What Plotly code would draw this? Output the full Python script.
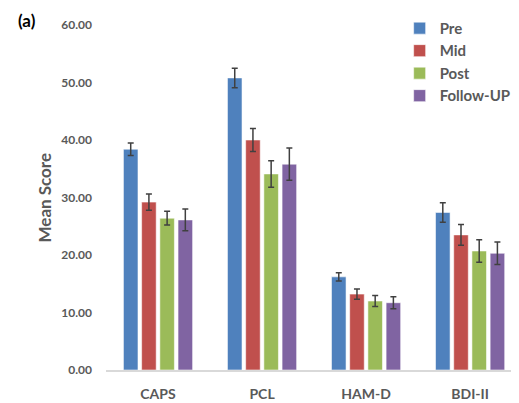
import plotly.graph_objects as go

categories = ["CAPS", "PCL", "HAM-D", "BDI-II"]
series_names = ["Pre", "Mid", "Post", "Follow-UP"]
pre = [38.4, 50.8, 16.2, 27.4]
mid = [29.2, 40.0, 13.2, 23.5]
post = [26.4, 34.1, 12.0, 20.7]
follow_up = [26.1, 35.8, 11.7, 20.3]
pre_err = [1.1, 1.7, 0.7, 1.7]
mid_err = [1.4, 2.0, 0.9, 1.8]
post_err = [1.2, 2.3, 0.95, 1.95]
follow_up_err = [1.9, 2.8, 1.05, 1.95]
y_ticks = [0, 10, 20, 30, 40, 50, 60]
y_tick_labels = ["0.00", "10.00", "20.00", "30.00", "40.00", "50.00", "60.00"]

colors = ["#4F81BD", "#C0504D", "#9BBB59", "#8064A2"]
values = [pre, mid, post, follow_up]
errors = [pre_err, mid_err, post_err, follow_up_err]

FONT = "Lato"
GRAY = "#595959"

fig = go.Figure()
for name, vals, errs, col in zip(series_names, values, errors, colors):
    fig.add_trace(go.Bar(
        name=name, x=categories, y=vals,
        marker=dict(color=col, line=dict(color="rgba(255,255,255,0.55)", width=1)),
        error_y=dict(type="data", array=errs, visible=True,
                     color="#404040", thickness=1.5, width=3),
    ))

fig.update_layout(
    width=511, height=395,
    margin=dict(l=98, r=0, t=17, b=33, autoexpand=False),
    paper_bgcolor="white", plot_bgcolor="white",
    barmode="group", bargap=0.3, bargroupgap=0.2,
    font=dict(family=FONT, color=GRAY),
    showlegend=True,
    legend=dict(x=0.711, y=1.038, xanchor="left", yanchor="top",
                font=dict(family=FONT, size=15, color=GRAY, weight="bold"),
                bgcolor="rgba(0,0,0,0)", itemwidth=30, tracegroupgap=0),
    xaxis=dict(range=[-0.5, 3.47], showgrid=False, zeroline=False,
               showline=True, linecolor="#D9D9D9", linewidth=1.5,
               ticks="", tickfont=dict(family=FONT, size=14, color=GRAY, weight="bold"),
               ticklabelstandoff=10),
    yaxis=dict(range=[0, 60], tickvals=y_ticks, ticktext=y_tick_labels,
               showgrid=False, zeroline=False, showline=False, ticks="",
               tickfont=dict(family=FONT, size=12, color=GRAY, weight="bold"),
               ticklabelstandoff=13),
    annotations=[
        dict(text="(a)", xref="paper", yref="paper", x=-0.2155, y=1.047,
             xanchor="left", yanchor="top", showarrow=False, borderpad=0,
             font=dict(family=FONT, size=17, color="black", weight="bold")),
        dict(text="Mean Score", xref="paper", yref="paper", x=-0.1477, y=0.5,
             xanchor="center", yanchor="middle", textangle=-90, showarrow=False,
             font=dict(family=FONT, size=17, color=GRAY, weight="bold")),
    ],
)

fig.write_html("out.html")
